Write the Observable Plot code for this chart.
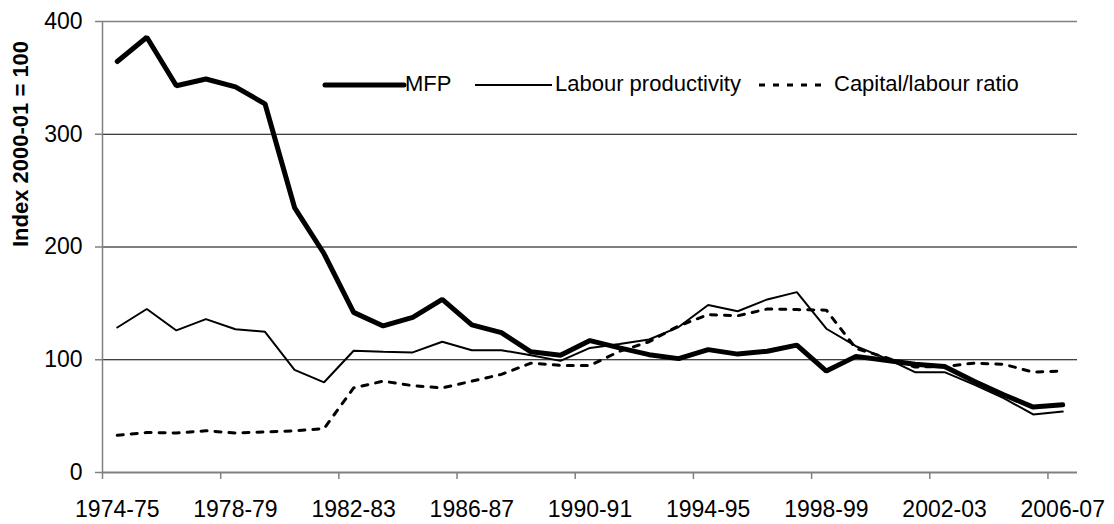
<!DOCTYPE html>
<html>
<head>
<meta charset="utf-8">
<script src="https://cdn.jsdelivr.net/npm/d3@7"></script>
<script src="https://cdn.jsdelivr.net/npm/@observablehq/plot@0.6"></script>
<style>
  html, body { margin: 0; padding: 0; background: #fff; }
  #wrap { position: relative; width: 1114px; height: 524px; font-family: "Liberation Sans", Arial, sans-serif; }
  .lg { position: absolute; font-size: 22px; line-height: 26px; color: #000; white-space: nowrap; }
  .sw { position: absolute; }
</style>
</head>
<body>
<div id="wrap"></div>
<script>
const categories = ["1974-75","1975-76","1976-77","1977-78","1978-79","1979-80","1980-81","1981-82","1982-83","1983-84","1984-85","1985-86","1986-87","1987-88","1988-89","1989-90","1990-91","1991-92","1992-93","1993-94","1994-95","1995-96","1996-97","1997-98","1998-99","1999-00","2000-01","2001-02","2002-03","2003-04","2004-05","2005-06","2006-07"];
const mfp = [364.5, 386, 343, 349, 342, 327, 235, 194, 142, 130, 137.5, 153.5, 131, 124, 107, 104, 117, 110.5, 104.5, 101, 109, 105, 107.5, 113, 90, 103, 99.5, 96, 94, 81, 69, 58, 60];
const labour = [128.6, 145, 126, 136, 127, 124.8, 91, 80, 108, 107, 106.5, 116, 108.5, 108.5, 104, 99, 110.5, 114, 118, 129, 148.5, 143, 153.5, 160, 127.5, 112, 101.5, 89, 89, 78, 66, 51.5, 54];
const capital = [33, 35.5, 35, 37, 35, 36, 37, 39, 75, 81, 77, 75, 81, 87, 97, 95, 95, 107.5, 116, 130, 140, 139, 145, 144.5, 144, 110, 102, 93.5, 94, 97, 96, 89, 90];
const seriesNames = ["MFP", "Labour productivity", "Capital/labour ratio"];
const yTicks = [0, 100, 200, 300, 400];
const yTitle = "Index 2000-01 = 100";
const labelEvery = 4;

const tickBounds = d3.range(0, categories.length, labelEvery);
const labelPos = tickBounds.map(b => b + 0.5);
const xi = (d, i) => i + 0.5;
const font = '"Liberation Sans", Arial, sans-serif';

const chart = Plot.plot({
  width: 1114,
  height: 524,
  marginLeft: 102,
  marginRight: 37,
  marginTop: 21,
  marginBottom: 52,
  style: { fontFamily: font, background: "#fff", color: "#000", overflow: "visible" },
  x: { type: "linear", domain: [0, categories.length], axis: null },
  y: { domain: [0, 400], axis: null },
  marks: [
    Plot.ruleY(yTicks.filter(v => v > 0 && v < 400), { stroke: "#000", strokeWidth: 1 }),
    Plot.ruleY([400], { stroke: "#808080", strokeWidth: 1.5 }),
    Plot.ruleX([0], { stroke: "#808080", strokeWidth: 1.5 }),
    Plot.ruleY([0], { stroke: "#808080", strokeWidth: 2 }),
    Plot.axisY(yTicks, { tickSize: 7, tickPadding: 13, fontSize: 23, stroke: "#808080", strokeWidth: 1.5, label: null }),
    Plot.axisX(tickBounds, { tickSize: 7, stroke: "#808080", strokeWidth: 1.5, tickFormat: () => "", label: null }),
    Plot.axisX(labelPos, { tickSize: 0, tickPadding: 28, fontSize: 23, tickFormat: d => categories[Math.floor(d)], label: null }),
    Plot.text([yTitle], { frameAnchor: "left", rotate: -90, dx: -82, fontSize: 22, fontWeight: "bold", fill: "#000" }),
    Plot.line(capital, { x: xi, y: d => d, stroke: "#000", strokeWidth: 3, strokeDasharray: "6,8" }),
    Plot.line(labour, { x: xi, y: d => d, stroke: "#000", strokeWidth: 2, strokeLinejoin: "miter" }),
    Plot.line(mfp, { x: xi, y: d => d, stroke: "#000", strokeWidth: 5, strokeLinejoin: "miter", strokeLinecap: "round" })
  ]
});

const wrap = document.getElementById("wrap");
wrap.appendChild(chart);

// Legend (inside plot area, as in the reference)
const legendItems = [
  { name: seriesNames[0], x1: 325, x2: 404, tx: 405, w: 5, dash: null, cap: "round" },
  { name: seriesNames[1], x1: 475, x2: 552, tx: 555, w: 2, dash: null, cap: "butt" },
  { name: seriesNames[2], x1: 759, x2: 829, tx: 834, w: 3, dash: "6,8", cap: "butt" }
];
const ly = 84.5;
for (const it of legendItems) {
  const ns = "http://www.w3.org/2000/svg";
  const svg = document.createElementNS(ns, "svg");
  svg.setAttribute("class", "sw");
  svg.setAttribute("width", it.x2 - it.x1 + 8);
  svg.setAttribute("height", 12);
  svg.style.left = (it.x1 - 4) + "px";
  svg.style.top = (ly - 6) + "px";
  const ln = document.createElementNS(ns, "line");
  ln.setAttribute("x1", 4); ln.setAttribute("x2", it.x2 - it.x1 + 4);
  ln.setAttribute("y1", 6); ln.setAttribute("y2", 6);
  ln.setAttribute("stroke", "#000");
  ln.setAttribute("stroke-width", it.w);
  ln.setAttribute("stroke-linecap", it.cap);
  if (it.dash) ln.setAttribute("stroke-dasharray", it.dash);
  svg.appendChild(ln);
  wrap.appendChild(svg);
  const sp = document.createElement("div");
  sp.className = "lg";
  sp.textContent = it.name;
  sp.style.left = it.tx + "px";
  sp.style.top = (ly - 14) + "px";
  wrap.appendChild(sp);
}
</script>
</body>
</html>
